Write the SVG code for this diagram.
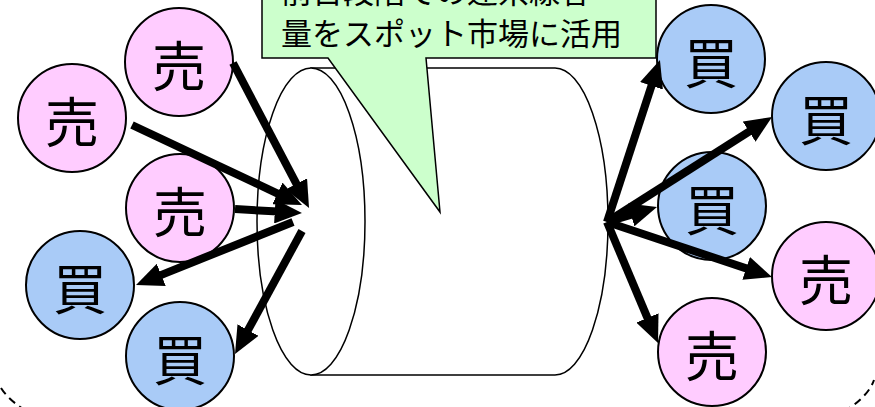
<svg xmlns="http://www.w3.org/2000/svg" width="875" height="407" viewBox="0 0 875 407">
<style>
.sell{fill:#FFCCFF;stroke:#000;stroke-width:2}
.buy{fill:#A9CBF7;stroke:#000;stroke-width:2}
.lbl{font-family:"Noto Sans CJK JP","Noto Sans CJK SC",sans-serif;font-size:54px;text-anchor:middle;fill:#000}
.btxt{font-family:"Noto Sans CJK JP","Noto Sans CJK SC",sans-serif;font-size:31px;fill:#000}
.arr{stroke:#000;stroke-width:8;fill:none;marker-end:url(#ah)}
</style>
<defs>
<marker id="ah" viewBox="0 0 3.4 3" markerWidth="3.4" markerHeight="3" refX="0.4" refY="1.5" orient="auto" markerUnits="strokeWidth">
<path d="M0,0 L3.4,1.5 L0,3 Z" fill="#000"/>
</marker>
</defs>
<rect width="875" height="407" fill="#fff"/>
<path id="boundary" d="M1,388 A440,110 0 0 0 874,380" fill="none" stroke="#000" stroke-width="2" stroke-dasharray="8,5"/>
<g id="cylinder">
<path d="M311,68 L555,68 A53,153.5 0 0 1 555,375 L311,375 Z" fill="#fff" stroke="#000" stroke-width="1.5"/>
<ellipse cx="311" cy="221.5" rx="54" ry="153.5" fill="#fff" stroke="#000" stroke-width="1.5"/>
</g>
<g id="callout">
<path d="M262,-10 L656,-10 L656,58 L426,58 L440,212 L328,58 L262,58 Z" fill="#CCFFCC" stroke="#000" stroke-width="1.5"/>
<text class="btxt" x="281" y="3">前日段階での連系線容</text>
<text class="btxt" x="281" y="45">量をスポット市場に活用</text>
</g>
<g id="s1"><circle class="sell" cx="179" cy="62" r="54"/><text class="lbl" x="179" y="87">売</text></g>
<g id="s2"><circle class="sell" cx="72" cy="118" r="54"/><text class="lbl" x="72" y="143">売</text></g>
<g id="s3"><circle class="sell" cx="180" cy="208" r="54"/><text class="lbl" x="180" y="233">売</text></g>
<g id="b1"><circle class="buy" cx="80" cy="285" r="54"/><text class="lbl" x="80" y="310">買</text></g>
<g id="b2"><circle class="buy" cx="180" cy="356" r="54"/><text class="lbl" x="180" y="381">買</text></g>
<g id="b3"><circle class="buy" cx="711" cy="59" r="54"/><text class="lbl" x="711" y="84">買</text></g>
<g id="b4"><circle class="buy" cx="826" cy="116" r="54"/><text class="lbl" x="826" y="141">買</text></g>
<g id="b5"><circle class="buy" cx="712" cy="206" r="54"/><text class="lbl" x="712" y="231">買</text></g>
<g id="s4"><circle class="sell" cx="826" cy="276" r="54"/><text class="lbl" x="826" y="301">売</text></g>
<g id="s5"><circle class="sell" cx="712" cy="352" r="54"/><text class="lbl" x="712" y="377">売</text></g>
<g id="connectors">
<line class="arr" x1="233" y1="63" x2="297.9" y2="186.7"/>
<line class="arr" x1="132" y1="125" x2="280.3" y2="194.8"/>
<line class="arr" x1="235" y1="209" x2="278" y2="211.6"/>
<line class="arr" x1="293" y1="222" x2="158.3" y2="276.1"/>
<line class="arr" x1="302" y1="231" x2="246.5" y2="332.9"/>
<line class="arr" x1="607" y1="222" x2="652.5" y2="82.8"/>
<line class="arr" x1="607" y1="222" x2="751.8" y2="129.9"/>
<line class="arr" x1="607" y1="222" x2="634" y2="213.9"/>
<line class="arr" x1="607" y1="222" x2="749.2" y2="269.4"/>
<line class="arr" x1="607" y1="222" x2="648.7" y2="320.9"/>
</g>
</svg>
